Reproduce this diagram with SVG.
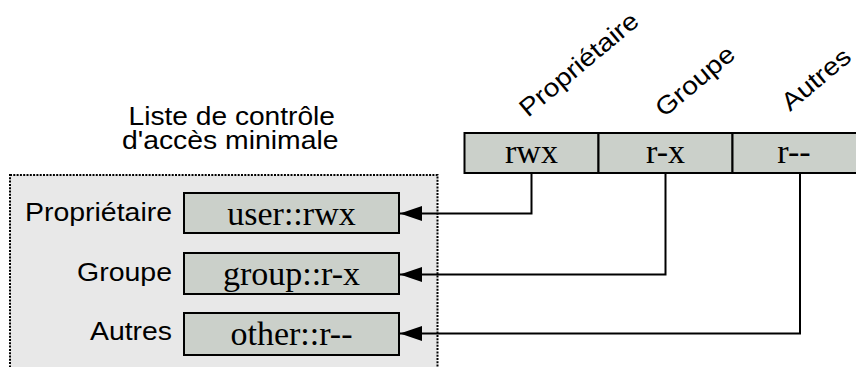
<svg xmlns="http://www.w3.org/2000/svg" width="856" height="367" viewBox="0 0 856 367">
<style>
.sans{font-family:"Liberation Sans",Arial,sans-serif;font-size:25px;fill:#000}
.serif{font-family:"Liberation Serif","Times New Roman",serif;font-size:34px;fill:#000;text-anchor:middle}
.cell{fill:#cbd0ca;stroke:#000;stroke-width:2}
.conn{fill:none;stroke:#000;stroke-width:2}
</style>
<defs>
<marker id="arr" markerUnits="userSpaceOnUse" markerWidth="24" markerHeight="16" refX="22" refY="8" orient="auto">
<path d="M0,0.5 L22,8 L0,15.5 Z" fill="#000"/>
</marker>
</defs>
<rect width="856" height="367" fill="#fff"/>
<g id="acl">
<rect x="10" y="175" width="427.5" height="200" fill="#e8e8e8" stroke="#000" stroke-width="2" stroke-dasharray="2 1.3"/>
<text class="sans" x="128.5" y="125" textLength="206.5" lengthAdjust="spacingAndGlyphs">Liste de contrôle</text>
<text class="sans" x="122" y="149" textLength="216.5" lengthAdjust="spacingAndGlyphs">d'accès minimale</text>
</g>
<g id="user">
<text class="sans" x="25" y="221" textLength="147" lengthAdjust="spacingAndGlyphs">Propriétaire</text>
<rect class="cell" x="184" y="193" width="215" height="40"/>
<text class="serif" x="291.5" y="225">user::rwx</text>
</g>
<g id="group">
<text class="sans" x="77" y="281" textLength="95" lengthAdjust="spacingAndGlyphs">Groupe</text>
<rect class="cell" x="184" y="253" width="215" height="41"/>
<text class="serif" x="291.5" y="285">group::r-x</text>
</g>
<g id="other">
<text class="sans" x="90" y="340" textLength="82" lengthAdjust="spacingAndGlyphs">Autres</text>
<rect class="cell" x="184" y="313" width="215" height="42"/>
<text class="serif" x="291.5" y="345">other::r--</text>
</g>
<g id="mode">
<rect class="cell" x="464.5" y="133" width="134" height="40"/>
<rect class="cell" x="598.5" y="133" width="134" height="40"/>
<rect class="cell" x="732.5" y="133" width="134" height="40"/>
<text class="serif" x="531.5" y="163">rwx</text>
<text class="serif" x="665.5" y="163">r-x</text>
<text class="serif" x="794" y="163">r--</text>
<text class="sans" transform="translate(528 118) rotate(-40)" textLength="147" lengthAdjust="spacingAndGlyphs">Propriétaire</text>
<text class="sans" transform="translate(664 118) rotate(-40)" textLength="95" lengthAdjust="spacingAndGlyphs">Groupe</text>
<text class="sans" transform="translate(790 112) rotate(-40)" textLength="82" lengthAdjust="spacingAndGlyphs">Autres</text>
</g>
<g id="connectors">
<path class="conn" d="M531.5,173 V213.5 H400" marker-end="url(#arr)"/>
<path class="conn" d="M665.5,173 V274.5 H400" marker-end="url(#arr)"/>
<path class="conn" d="M800,173 V333.5 H400" marker-end="url(#arr)"/>
</g>
</svg>
